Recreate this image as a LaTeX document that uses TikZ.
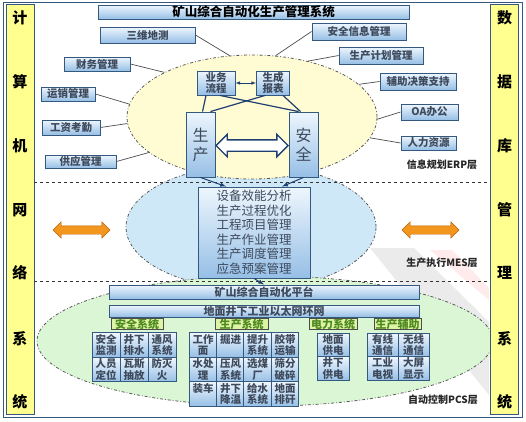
\documentclass[tikz,border=0pt]{standalone}
\usepackage{fontspec}
\setmainfont{Noto Sans CJK SC}
\usetikzlibrary{shapes.geometric,shapes.arrows}

\definecolor{boxtop}{HTML}{EEF6FD}
\definecolor{boxbot}{HTML}{96BFE6}
\definecolor{boxline}{HTML}{34587E}
\definecolor{linkcol}{HTML}{1F3F73}
\definecolor{txtgray}{HTML}{3E4A5C}
\definecolor{colfill}{HTML}{FFFF8F}
\definecolor{erpfill}{HTML}{FFFBD3}
\definecolor{mesfill}{HTML}{CFE8F8}
\definecolor{pcsfill}{HTML}{DAF6D4}
\definecolor{arrowfill}{HTML}{F2961E}
\definecolor{arrowline}{HTML}{B8640A}
\definecolor{tagfill}{HTML}{DDF3A6}
\definecolor{tagtext}{HTML}{4F8A1E}

\tikzset{
  colbox/.style={draw=boxline, fill=colfill, line width=0.8pt, minimum width=28, minimum height=410},
  colchar/.style={font=\fontsize{15}{15}\selectfont\bfseries},
  layer/.style={ellipse, draw=black!65, line width=0.8pt, dash dot},
  sidebox/.style={draw=boxline, line width=0.9pt, top color=boxtop, bottom color=boxbot, inner sep=0pt, font=\fontsize{10.5}{11}\selectfont\bfseries, text=txtgray},
  bar/.style={draw=boxline, line width=0.9pt, top color=boxtop, bottom color=boxbot, inner sep=0pt, minimum width=310, font=\fontsize{11}{11}\selectfont\bfseries, text=txtgray},
  tag/.style={draw=black!70, fill=tagfill, inner sep=0pt, minimum height=10, font=\fontsize{11}{11}\selectfont\bfseries, text=tagtext},
  cell/.style={draw=boxline, line width=0.8pt, top color=boxtop, bottom color=boxbot, inner sep=0pt, minimum width=28, minimum height=24.5, align=center, font=\fontsize{10.5}{11.5}\selectfont\bfseries, text=txtgray},
  link/.style={draw=linkcol, line width=1.2pt},
  feeder/.style={draw=black!70, line width=0.7pt},
  sep/.style={draw=black!80, dashed, line width=0.9pt},
  layername/.style={font=\fontsize{10}{10}\selectfont\bfseries, text=black!85},
  orangearrow/.style={double arrow, fill=arrowfill, draw=arrowline, inner xsep=0pt, inner ysep=4pt, double arrow head extend=4pt, minimum height=57}
}

\begin{document}
\begin{tikzpicture}[x=1pt,y=-1pt]
    \useasboundingbox (0,0) rectangle (526,421);
    \draw[draw=boxline, line width=1pt] (3,2) rectangle (522,417); % frame
    % faint band behind the lower right
    \fill[gray!16] (370,248) -- (414,248) -- (489,322) -- (489,395) -- cycle;
    \fill[red!8] (430,250) -- (452,250) -- (489,288) -- (489,300) -- cycle;
    % layers
    \node[layer, fill=mesfill, minimum width=250, minimum height=124] (mesl) at (251,227) {};
    \node[layer, fill=erpfill, minimum width=250, minimum height=124] (erp) at (252,117) {};
    \node[layer, fill=pcsfill, minimum width=456, minimum height=130] (pcsl) at (265,341) {};
    % side columns
    \node[colbox] (lcol) at (20,209) {};
    \node[colbox] (rcol) at (504.5,209) {};
    \foreach \c/\y in {计/18,算/82,机/146,网/210,络/273,系/339,统/402}
        \node[colchar] (l\y) at (20,\y) {\c};
    \foreach \c/\y in {数/18,据/82,库/146,管/210,理/273,系/339,统/402}
        \node[colchar] (r\y) at (504.5,\y) {\c};
    \draw[sep] (lcol.east |- 0,182) -- (rcol.west |- 0,182);
    \draw[sep] (lcol.east |- 0,281) -- (rcol.west |- 0,281);
    % title
    \node[bar, minimum width=311, minimum height=14, text=black, font=\fontsize{12.5}{12.5}\selectfont\bfseries] (title) at (253.5,12) {矿山综合自动化生产管理系统};
    % ERP side boxes
    \node[sidebox, minimum width=95, minimum height=16] (sanwei) at (147.5,35) {三维地测};
    \node[sidebox, minimum width=66, minimum height=14] (caiwu) at (97,64) {财务管理};
    \node[sidebox, minimum width=54, minimum height=14] (yunxiao) at (68,94) {运销管理};
    \node[sidebox, minimum width=58, minimum height=15] (gongzi) at (71,127.5) {工资考勤};
    \node[sidebox, minimum width=71, minimum height=13] (gongying) at (80.5,161.5) {供应管理};
    \node[sidebox, minimum width=94, minimum height=17] (anxin) at (359,31.5) {安全信息管理};
    \node[sidebox, minimum width=84, minimum height=17] (jihua) at (381,55.5) {生产计划管理};
    \node[sidebox, minimum width=76, minimum height=17] (juece) at (418,81.5) {辅助决策支持};
    \node[sidebox, minimum width=57, minimum height=16] (oa) at (429.5,112) {OA办公};
    \node[sidebox, minimum width=55, minimum height=14] (renli) at (428.5,143) {人力资源};
    \draw[feeder] (sanwei.east) -- (erp.110);
    \draw[feeder] (caiwu.east) -- (erp.153);
    \draw[feeder] (yunxiao.east) -- (erp.174);
    \draw[feeder] (gongzi.east) -- (erp.183);
    \draw[feeder] (gongying.east) -- (erp.199);
    \draw[feeder] (anxin.west) -- (erp.69);
    \draw[feeder] (jihua.west) -- (erp.45);
    \draw[feeder] (juece.west) -- (erp.17);
    \draw[feeder] (oa.west) -- (erp.-1);
    \draw[feeder] (renli.west) -- (erp.-10);
    % ERP core
    \node[sidebox, minimum width=38, minimum height=24, align=center, font=\fontsize{10.5}{11}\selectfont\bfseries] (yewu) at (216,83) {业务\\流程};
    \node[sidebox, minimum width=33, minimum height=24, align=center, font=\fontsize{10.5}{11}\selectfont\bfseries] (baobiao) at (273,83) {生成\\报表};
    \node[sidebox, minimum width=29, minimum height=65, align=center, font=\fontsize{16}{19}\selectfont] (sc) at (200.5,144.5) {生\\产};
    \node[sidebox, minimum width=29, minimum height=65, align=center, font=\fontsize{16}{19}\selectfont] (aq) at (303.5,144.5) {安\\全};
    \node[double arrow, draw=linkcol, fill=white, line width=1.4pt, inner xsep=0pt, inner ysep=5pt, double arrow head extend=5.5pt, minimum height=72] (scaq) at (252,145.5) {};
    \draw[latex-latex, draw=linkcol, line width=0.6pt] (yewu.east) -- (baobiao.west);
    \draw[link] ([xshift=-10]yewu.south) -- ([xshift=2]sc.north);
    \draw[link] ([xshift=4]yewu.south) -- ([xshift=-5]aq.north);
    \draw[link] ([xshift=-8]baobiao.south) -- ([xshift=10]sc.north);
    \draw[link] ([xshift=10]baobiao.south) -- ([xshift=-3]aq.north);
    \node[layername] (erpname) at (442,165) {信息规划ERP层};
    % MES
    \node[sidebox, minimum width=112, minimum height=91, align=center, font=\fontsize{12.5}{14.5}\selectfont] (mes) at (254,232.5) {设备效能分析\\生产过程优化\\工程项目管理\\生产作业管理\\生产调度管理\\应急预案管理};
    \draw[link, line width=1pt, -latex] (sc.south) -- ([xshift=-28]mes.north);
    \draw[link, line width=1pt, -latex] (aq.south) -- ([xshift=28]mes.north);
    \node[orangearrow] (larrow) at (81.5,230) {};
    \node[orangearrow] (rarrow) at (430.5,230) {};
    \node[layername] (mesname) at (442,263) {生产执行MES层};
    % PCS
    \node[bar, minimum height=14] (ptf) at (264,292) {矿山综合自动化平台};
    \node[bar, minimum height=12] (ring) at (264,311) {地面井下工业以太网环网};
    \draw[link, line width=1pt, -latex] (mes.south) -- (ptf.north);
    \node[tag, minimum width=52] (anquan) at (137,324) {安全系统};
    \node[tag, minimum width=53] (shengchan) at (241.5,324) {生产系统};
    \node[tag, minimum width=48] (dianli) at (333,324) {电力系统};
    \node[tag, minimum width=47] (fuzhu) at (397.5,324) {生产辅助};
    % safety cells
    \node[cell] (aqjc) at (106,345) {安全\\监测};
    \node[cell] (jxps) at (134,345) {井下\\排水};
    \node[cell] (tfxt) at (162,345) {通风\\系统};
    \node[cell] (rydw) at (106,369.5) {人员\\定位};
    \node[cell] (wscf) at (134,369.5) {瓦斯\\抽放};
    \node[cell] (fmh) at (162,369.5) {防灭\\火};
    % production cells
    \node[cell, minimum width=27.5] (gzm) at (203,345) {工作\\面};
    \node[cell, minimum width=27.5] (jj) at (230.5,345) {掘进\\~};
    \node[cell, minimum width=27.5] (tsxt) at (257.5,345) {提升\\系统};
    \node[cell, minimum width=27.5] (jdys) at (285,345) {胶带\\运输};
    \node[cell, minimum width=27.5] (scl) at (203,369.5) {水处\\理};
    \node[cell, minimum width=27.5] (yfxt) at (230.5,369.5) {压风\\系统};
    \node[cell, minimum width=27.5] (xmc) at (257.5,369.5) {选煤\\厂};
    \node[cell, minimum width=27.5] (sfps) at (285,369.5) {筛分\\破碎};
    \node[cell, minimum width=27.5] (zc) at (203,394) {装车\\~};
    \node[cell, minimum width=27.5] (jxjw) at (230.5,394) {井下\\降温};
    \node[cell, minimum width=27.5] (jsxt) at (257.5,394) {给水\\系统};
    \node[cell, minimum width=27.5] (dmpg) at (285,394) {地面\\排矸};
    % power cells
    \node[cell, minimum width=32, minimum height=23.5] (dmgd) at (333,345) {地面\\供电};
    \node[cell, minimum width=32, minimum height=23.5] (jxgd) at (333,368.5) {井下\\供电};
    % auxiliary cells
    \node[cell, minimum width=31, minimum height=23.5] (yxtx) at (382.5,345) {有线\\通信};
    \node[cell, minimum width=31, minimum height=23.5] (wxtx) at (413.5,345) {无线\\通信};
    \node[cell, minimum width=31, minimum height=23.5] (gyds) at (382.5,368.5) {工业\\电视};
    \node[cell, minimum width=31, minimum height=23.5] (dpxs) at (413.5,368.5) {大屏\\显示};
    \node[layername] (pcsname) at (443,400) {自动控制PCS层};
\end{tikzpicture}
\end{document}
